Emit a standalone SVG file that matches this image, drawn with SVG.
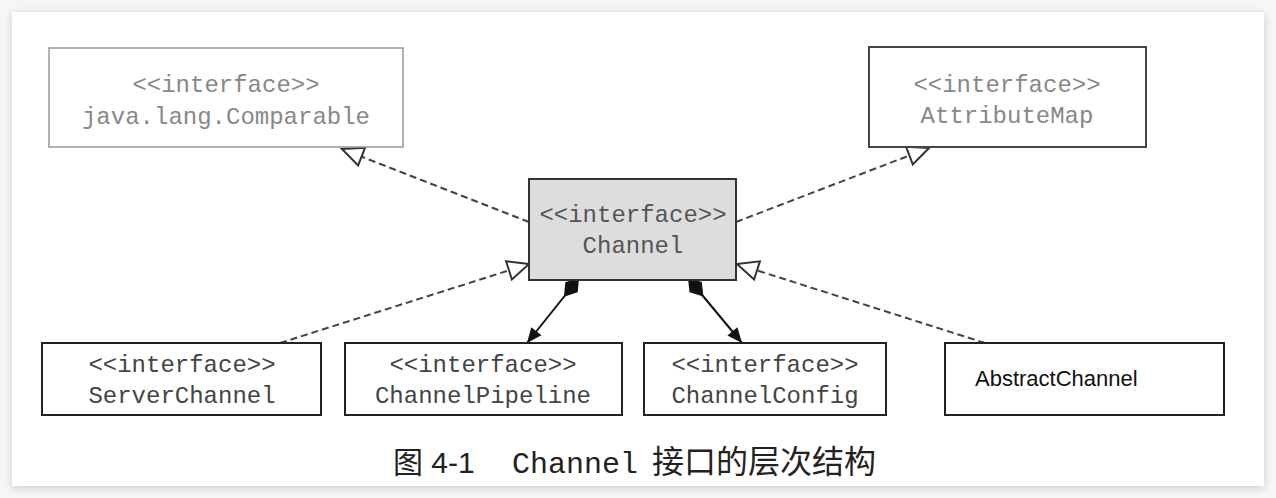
<svg xmlns="http://www.w3.org/2000/svg" width="1276" height="498" viewBox="0 0 1276 498">
<defs>
<filter id="sh" x="-5%" y="-10%" width="110%" height="120%">
<feGaussianBlur in="SourceAlpha" stdDeviation="5"/>
<feOffset dx="0" dy="2" result="b"/>
<feComponentTransfer><feFuncA type="linear" slope="0.18"/></feComponentTransfer>
<feMerge><feMergeNode/><feMergeNode in="SourceGraphic"/></feMerge>
</filter>
<marker id="tri" markerUnits="userSpaceOnUse" viewBox="-24 -12 26 24" refX="0" refY="0" markerWidth="26" markerHeight="24" orient="auto">
<path d="M0,0 L-21,-9.5 L-21,9.5 Z" fill="#fff" stroke="#333" stroke-width="2" stroke-linejoin="miter"/>
</marker>
<marker id="dia" markerUnits="userSpaceOnUse" viewBox="-2 -10 30 20" refX="0" refY="0" markerWidth="30" markerHeight="20" orient="auto">
<path d="M0,0 L12,-8 L24,0 L12,8 Z" fill="#111"/>
</marker>
<marker id="arr" markerUnits="userSpaceOnUse" viewBox="-16 -8 18 16" refX="0" refY="0" markerWidth="18" markerHeight="16" orient="auto">
<path d="M0,0 L-15,-6.5 L-15,6.5 Z" fill="#111"/>
</marker>
</defs>
<style>
.mono{font-family:"Liberation Mono","DejaVu Sans Mono",monospace;font-size:24px;text-anchor:middle}
.box{fill:#fff;stroke:#222;stroke-width:2}
.dash{fill:none;stroke:#444;stroke-width:2;stroke-dasharray:7 4}
.comp{fill:none;stroke:#111;stroke-width:2}
</style>
<rect x="0" y="0" width="1276" height="498" fill="#f6f6f6"/>
<rect x="12" y="12" width="1252" height="474" fill="#fff" filter="url(#sh)"/>

<g id="connectors">
<path class="dash" d="M529,222 L342,149" marker-end="url(#tri)"/>
<path class="dash" d="M736,222 L929,148" marker-end="url(#tri)"/>
<path class="dash" d="M280,343 L529,264" marker-end="url(#tri)"/>
<path class="dash" d="M985,343 L737,264" marker-end="url(#tri)"/>
<path class="comp" d="M579,278 L527,343" marker-start="url(#dia)" marker-end="url(#arr)"/>
<path class="comp" d="M688,278 L742,343" marker-start="url(#dia)" marker-end="url(#arr)"/>
</g>

<g id="comparable">
<rect x="49" y="48" width="354" height="99" fill="#fff" stroke="#999" stroke-width="1.5"/>
<text class="mono" x="226" y="92" fill="#888">&lt;&lt;interface&gt;&gt;</text>
<text class="mono" x="226" y="124" fill="#888">java.lang.Comparable</text>
</g>

<g id="attributemap">
<rect x="869" y="47" width="277" height="100" fill="#fff" stroke="#444" stroke-width="2"/>
<text class="mono" x="1007" y="92" fill="#888">&lt;&lt;interface&gt;&gt;</text>
<text class="mono" x="1007" y="123" fill="#888">AttributeMap</text>
</g>

<g id="channel">
<rect x="529" y="179" width="207" height="101" fill="#ddd" stroke="#333" stroke-width="2"/>
<text class="mono" x="633" y="222" fill="#555">&lt;&lt;interface&gt;&gt;</text>
<text class="mono" x="633" y="253" fill="#555">Channel</text>
</g>

<g id="serverchannel">
<rect class="box" x="42" y="343" width="279" height="72"/>
<text class="mono" x="182" y="372" fill="#444">&lt;&lt;interface&gt;&gt;</text>
<text class="mono" x="182" y="403" fill="#444">ServerChannel</text>
</g>

<g id="channelpipeline">
<rect class="box" x="345" y="343" width="277" height="72"/>
<text class="mono" x="483" y="372" fill="#444">&lt;&lt;interface&gt;&gt;</text>
<text class="mono" x="483" y="403" fill="#444">ChannelPipeline</text>
</g>

<g id="channelconfig">
<rect class="box" x="644" y="343" width="242" height="72"/>
<text class="mono" x="765" y="372" fill="#444">&lt;&lt;interface&gt;&gt;</text>
<text class="mono" x="765" y="403" fill="#444">ChannelConfig</text>
</g>

<g id="abstractchannel">
<rect class="box" x="945" y="343" width="279" height="72"/>
<text x="975" y="386" font-family="Liberation Sans, Arial, sans-serif" font-size="22" fill="#111">AbstractChannel</text>
</g>

<g id="caption" fill="#222">
<text x="393" y="473" font-family="Liberation Sans, 'Noto Sans CJK SC', sans-serif" font-size="30">图 4-1</text>
<text x="512" y="473" font-family="Liberation Mono, monospace" font-size="30">Channel</text>
<text x="652" y="473" font-family="'Noto Sans CJK SC', sans-serif" font-size="32">接口的层次结构</text>
</g>
</svg>
